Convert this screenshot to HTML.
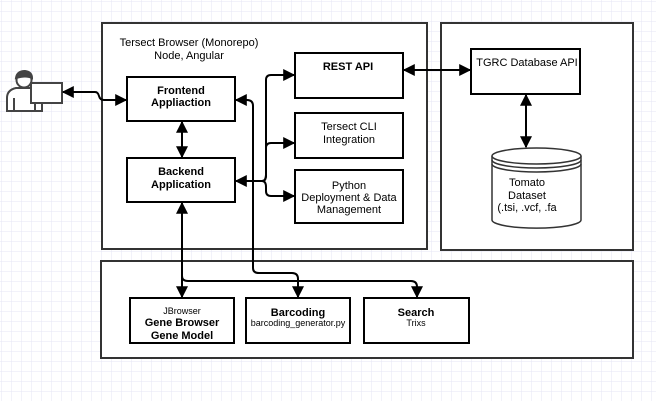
<!DOCTYPE html>
<html><head><style>
html,body{margin:0;padding:0;background:#fff}
svg{display:block}
text{font-family:"Liberation Sans",sans-serif;fill:#000}
</style></head><body>
<svg width="656" height="401" viewBox="0 0 656 401" xmlns="http://www.w3.org/2000/svg">
<defs>
<pattern id="g" width="10" height="10" patternUnits="userSpaceOnUse" x="1" y="1">
<path d="M10 0H0V10" fill="none" stroke="#e6e6f4" stroke-width="1"/>
</pattern>
<marker id="a" viewBox="0 0 10 10" refX="9" refY="5" markerWidth="6" markerHeight="6" orient="auto-start-reverse"><path d="M0 0L10 5L0 10z" fill="#000"/></marker>
</defs>
<rect width="656" height="401" fill="url(#g)"/>
<g fill="#fff" stroke="#333" stroke-width="2">
<rect x="102" y="23" width="325" height="226"/>
<rect x="441" y="23" width="192" height="227"/>
<rect x="101" y="261" width="532" height="97"/>
</g>
<g fill="#fff" stroke="#000" stroke-width="2">
<rect x="127" y="77" width="108" height="44"/>
<rect x="127" y="158" width="108" height="44"/>
<rect x="295" y="53" width="108" height="45"/>
<rect x="295" y="113" width="108" height="45"/>
<rect x="295" y="170" width="108" height="53"/>
<rect x="471" y="49" width="109" height="45"/>
<rect x="130" y="298" width="104" height="45"/>
<rect x="246" y="298" width="104" height="45"/>
<rect x="364" y="298" width="105" height="45"/>
</g>
<g fill="#fff" stroke="#333" stroke-width="1.5">
<path d="M492 156 V220 A44 8 0 0 0 581 220 V156"/>
<ellipse cx="536.5" cy="156" rx="44.5" ry="8"/>
<path d="M492 160 A44.5 8 0 0 0 581 160 M492 164 A44.5 8 0 0 0 581 164" fill="none"/>
</g>
<g stroke="#444" stroke-width="2" fill="#fff">
<path d="M7 111 V98 Q7 90 16 88 L34 88 Q42 90 42 98 V111 Z"/>
<path d="M14 98 V111 M35 98 V111" fill="none"/>
<circle cx="24" cy="80" r="7.5"/>
<path d="M16 78 Q17 71 25 71 Q32 72 32 78 Q26 75 16 78z" fill="#444"/>
<rect x="31" y="83" width="31" height="20"/>
</g>
<g fill="none" stroke="#000" stroke-width="2">
<path d="M63 92 H95 Q98 92 99 96 Q100 100 104 100 H126" marker-start="url(#a)" marker-end="url(#a)"/>
<path d="M182 122 V157" marker-start="url(#a)" marker-end="url(#a)"/>
<path d="M236 181 H262" marker-start="url(#a)"/>
<path d="M262 181 Q266 181 266 175 V80 Q266 75 271 75 H294" marker-end="url(#a)"/>
<path d="M262 181 Q266 181 266 175 V148 Q266 143 271 143 H294" marker-end="url(#a)"/>
<path d="M262 181 Q266 181 266 187 V191 Q266 196 271 196 H294" marker-end="url(#a)"/>
<path d="M404 70 H470" marker-start="url(#a)" marker-end="url(#a)"/>
<path d="M526 95 V147" marker-start="url(#a)" marker-end="url(#a)"/>
<path d="M182 203 V297" marker-start="url(#a)" marker-end="url(#a)"/>
<path d="M236 100 H247 Q253 100 253 106 V268 Q253 273 259 273 H292 Q298 273 298 279 V297" marker-start="url(#a)" marker-end="url(#a)"/>
<path d="M182 276 Q182 281 188 281 H411 Q417 281 417 287 V297" marker-end="url(#a)"/>
</g>
<g font-size="11" text-anchor="middle">
<text x="189" y="46">Tersect Browser (Monorepo)</text>
<text x="189" y="59">Node, Angular</text>
<text x="181" y="94" font-weight="bold">Frontend</text>
<text x="181" y="106" font-weight="bold">Appliaction</text>
<text x="181" y="175" font-weight="bold">Backend</text>
<text x="181" y="188" font-weight="bold">Application</text>
<text x="348" y="70" font-weight="bold">REST API</text>
<text x="349" y="130">Tersect CLI</text>
<text x="349" y="143">Integration</text>
<text x="349" y="189">Python</text>
<text x="349" y="201">Deployment &amp; Data</text>
<text x="349" y="213">Management</text>
<text x="527" y="66">TGRC Database API</text>
<text x="527" y="186">Tomato</text>
<text x="527" y="199">Dataset</text>
<text x="527" y="211">(.tsi, .vcf, .fa</text>
<text x="182" y="314" font-size="9">JBrowser</text>
<text x="182" y="326" font-weight="bold">Gene Browser</text>
<text x="182" y="339" font-weight="bold">Gene Model</text>
<text x="298" y="316" font-weight="bold">Barcoding</text>
<text x="298" y="326" font-size="9">barcoding_generator.py</text>
<text x="416" y="316" font-weight="bold">Search</text>
<text x="416" y="326" font-size="9">Trixs</text>
</g>
</svg>
</body></html>
